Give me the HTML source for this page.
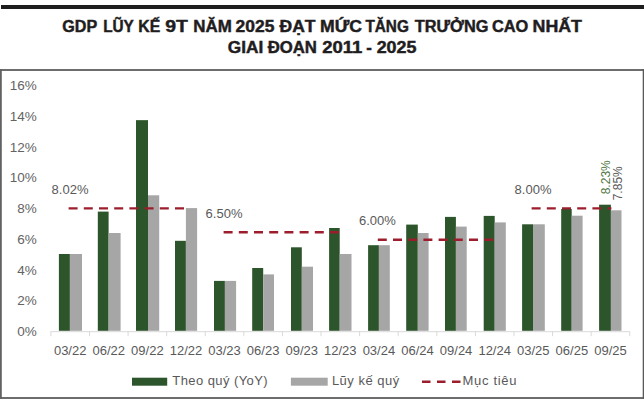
<!DOCTYPE html>
<html><head><meta charset="utf-8"><style>
html,body{margin:0;padding:0;background:#fff;}
body{width:644px;height:400px;overflow:hidden;}
svg{display:block;}
.t{font-family:"Liberation Sans",sans-serif;font-weight:bold;font-size:16px;fill:#1f1d1e;stroke:#1f1d1e;stroke-width:0.45px;}
.l{font-family:"Liberation Sans",sans-serif;font-size:13px;fill:#595959;}
</style></head><body>
<svg width="644" height="400" viewBox="0 0 644 400">
<rect x="1" y="5" width="643" height="4" fill="#1e1e1e"/>
<text x="62.29" y="31.6" class="t" textLength="34.88" lengthAdjust="spacingAndGlyphs">GDP</text>
<text x="103.14" y="31.6" class="t" textLength="30.61" lengthAdjust="spacingAndGlyphs">LŨY</text>
<text x="138.31" y="31.6" class="t" textLength="21.92" lengthAdjust="spacingAndGlyphs">KẾ</text>
<text x="165.29" y="31.6" class="t" textLength="22.61" lengthAdjust="spacingAndGlyphs">9T</text>
<text x="193.24" y="31.6" class="t" textLength="38.47" lengthAdjust="spacingAndGlyphs">NĂM</text>
<text x="235.61" y="31.6" class="t" textLength="38.73" lengthAdjust="spacingAndGlyphs">2025</text>
<text x="279.60" y="31.6" class="t" textLength="35.98" lengthAdjust="spacingAndGlyphs">ĐẠT</text>
<text x="320.00" y="31.6" class="t" textLength="41.97" lengthAdjust="spacingAndGlyphs">MỨC</text>
<text x="365.40" y="31.6" class="t" textLength="43.41" lengthAdjust="spacingAndGlyphs">TĂNG</text>
<text x="414.80" y="31.6" class="t" textLength="73.67" lengthAdjust="spacingAndGlyphs">TRƯỞNG</text>
<text x="491.98" y="31.6" class="t" textLength="36.40" lengthAdjust="spacingAndGlyphs">CAO</text>
<text x="532.59" y="31.6" class="t" textLength="49.40" lengthAdjust="spacingAndGlyphs">NHẤT</text>
<text x="227.82" y="53" class="t" textLength="35.44" lengthAdjust="spacingAndGlyphs">GIAI</text>
<text x="267.70" y="53" class="t" textLength="49.26" lengthAdjust="spacingAndGlyphs">ĐOẠN</text>
<text x="322.25" y="53" class="t" textLength="40.08" lengthAdjust="spacingAndGlyphs">2011</text>
<text x="366.35" y="53" class="t" textLength="5.59" lengthAdjust="spacingAndGlyphs">-</text>
<text x="376.68" y="53" class="t" textLength="39.78" lengthAdjust="spacingAndGlyphs">2025</text>
<line x1="0" y1="70" x2="644" y2="70" stroke="#6d6d6d" stroke-width="2"/>
<line x1="0" y1="397.9" x2="644" y2="397.9" stroke="#6d6d6d" stroke-width="2"/>
<line x1="0.9" y1="69" x2="0.9" y2="398.9" stroke="#626262" stroke-width="1.8"/>
<line x1="643.4" y1="69" x2="643.4" y2="398.9" stroke="#5a5a5a" stroke-width="1.4"/>
<text x="36.7" y="336" text-anchor="end" class="l" style="font-size:13.5px;fill:#636363">0%</text>
<text x="36.7" y="305.25" text-anchor="end" class="l" style="font-size:13.5px;fill:#636363">2%</text>
<text x="36.7" y="274.5" text-anchor="end" class="l" style="font-size:13.5px;fill:#636363">4%</text>
<text x="36.7" y="243.75" text-anchor="end" class="l" style="font-size:13.5px;fill:#636363">6%</text>
<text x="36.7" y="213" text-anchor="end" class="l" style="font-size:13.5px;fill:#636363">8%</text>
<text x="36.7" y="182.25" text-anchor="end" class="l" style="font-size:13.5px;fill:#636363">10%</text>
<text x="36.7" y="151.5" text-anchor="end" class="l" style="font-size:13.5px;fill:#636363">12%</text>
<text x="36.7" y="120.75" text-anchor="end" class="l" style="font-size:13.5px;fill:#636363">14%</text>
<text x="36.7" y="90" text-anchor="end" class="l" style="font-size:13.5px;fill:#636363">16%</text>
<line x1="50.9" y1="331.7" x2="629.75" y2="331.7" stroke="#d9d9d9" stroke-width="1"/>
<line x1="50.9" y1="331.2" x2="50.9" y2="336.2" stroke="#d9d9d9" stroke-width="1"/>
<line x1="89.49" y1="331.2" x2="89.49" y2="336.2" stroke="#d9d9d9" stroke-width="1"/>
<line x1="128.08" y1="331.2" x2="128.08" y2="336.2" stroke="#d9d9d9" stroke-width="1"/>
<line x1="166.67" y1="331.2" x2="166.67" y2="336.2" stroke="#d9d9d9" stroke-width="1"/>
<line x1="205.26" y1="331.2" x2="205.26" y2="336.2" stroke="#d9d9d9" stroke-width="1"/>
<line x1="243.85" y1="331.2" x2="243.85" y2="336.2" stroke="#d9d9d9" stroke-width="1"/>
<line x1="282.44" y1="331.2" x2="282.44" y2="336.2" stroke="#d9d9d9" stroke-width="1"/>
<line x1="321.03" y1="331.2" x2="321.03" y2="336.2" stroke="#d9d9d9" stroke-width="1"/>
<line x1="359.62" y1="331.2" x2="359.62" y2="336.2" stroke="#d9d9d9" stroke-width="1"/>
<line x1="398.21" y1="331.2" x2="398.21" y2="336.2" stroke="#d9d9d9" stroke-width="1"/>
<line x1="436.8" y1="331.2" x2="436.8" y2="336.2" stroke="#d9d9d9" stroke-width="1"/>
<line x1="475.39" y1="331.2" x2="475.39" y2="336.2" stroke="#d9d9d9" stroke-width="1"/>
<line x1="513.98" y1="331.2" x2="513.98" y2="336.2" stroke="#d9d9d9" stroke-width="1"/>
<line x1="552.57" y1="331.2" x2="552.57" y2="336.2" stroke="#d9d9d9" stroke-width="1"/>
<line x1="591.16" y1="331.2" x2="591.16" y2="336.2" stroke="#d9d9d9" stroke-width="1"/>
<line x1="629.75" y1="331.2" x2="629.75" y2="336.2" stroke="#d9d9d9" stroke-width="1"/>
<rect x="58.9" y="254" width="11" height="76.8" fill="#2d552b"/>
<rect x="69.9" y="254" width="12.1" height="76.8" fill="#a7a6a7"/>
<rect x="97.8" y="211.6" width="10.8" height="119.2" fill="#2d552b"/>
<rect x="108.6" y="233" width="12" height="97.8" fill="#a7a6a7"/>
<rect x="136" y="120.15" width="12" height="210.65" fill="#2d552b"/>
<rect x="148" y="195.3" width="11.2" height="135.5" fill="#a7a6a7"/>
<rect x="175" y="240.8" width="10.9" height="90" fill="#2d552b"/>
<rect x="185.9" y="208.1" width="11.2" height="122.7" fill="#a7a6a7"/>
<rect x="214" y="280.9" width="10.9" height="49.9" fill="#2d552b"/>
<rect x="224.9" y="280.9" width="11.2" height="49.9" fill="#a7a6a7"/>
<rect x="252.2" y="268" width="11" height="62.8" fill="#2d552b"/>
<rect x="263.2" y="274.4" width="10.8" height="56.4" fill="#a7a6a7"/>
<rect x="291" y="247.3" width="10.8" height="83.5" fill="#2d552b"/>
<rect x="301.8" y="266.7" width="11.2" height="64.1" fill="#a7a6a7"/>
<rect x="329.1" y="228" width="10.6" height="102.8" fill="#2d552b"/>
<rect x="339.7" y="254" width="11.8" height="76.8" fill="#a7a6a7"/>
<rect x="368.1" y="245.2" width="10.8" height="85.6" fill="#2d552b"/>
<rect x="378.9" y="245.2" width="10.9" height="85.6" fill="#a7a6a7"/>
<rect x="406.2" y="224.6" width="11.6" height="106.2" fill="#2d552b"/>
<rect x="417.8" y="233" width="10.8" height="97.8" fill="#a7a6a7"/>
<rect x="445" y="216.9" width="10.9" height="113.9" fill="#2d552b"/>
<rect x="455.9" y="226.6" width="10.8" height="104.2" fill="#a7a6a7"/>
<rect x="483.7" y="215.9" width="11" height="114.9" fill="#2d552b"/>
<rect x="494.7" y="222.4" width="11.1" height="108.4" fill="#a7a6a7"/>
<rect x="522.1" y="224.3" width="10.9" height="106.5" fill="#2d552b"/>
<rect x="533" y="224.3" width="11.8" height="106.5" fill="#a7a6a7"/>
<rect x="561.2" y="209" width="10.5" height="121.8" fill="#2d552b"/>
<rect x="571.7" y="215.7" width="10.9" height="115.1" fill="#a7a6a7"/>
<rect x="599.1" y="204.7" width="11.8" height="126.1" fill="#2d552b"/>
<rect x="610.9" y="210.3" width="10.6" height="120.5" fill="#a7a6a7"/>
<text x="70.19" y="355.4" text-anchor="middle" class="l">03/22</text>
<text x="108.78" y="355.4" text-anchor="middle" class="l">06/22</text>
<text x="147.38" y="355.4" text-anchor="middle" class="l">09/22</text>
<text x="185.97" y="355.4" text-anchor="middle" class="l">12/22</text>
<text x="224.56" y="355.4" text-anchor="middle" class="l">03/23</text>
<text x="263.14" y="355.4" text-anchor="middle" class="l">06/23</text>
<text x="301.74" y="355.4" text-anchor="middle" class="l">09/23</text>
<text x="340.32" y="355.4" text-anchor="middle" class="l">12/23</text>
<text x="378.92" y="355.4" text-anchor="middle" class="l">03/24</text>
<text x="417.5" y="355.4" text-anchor="middle" class="l">06/24</text>
<text x="456.1" y="355.4" text-anchor="middle" class="l">09/24</text>
<text x="494.69" y="355.4" text-anchor="middle" class="l">12/24</text>
<text x="533.28" y="355.4" text-anchor="middle" class="l">03/25</text>
<text x="571.87" y="355.4" text-anchor="middle" class="l">06/25</text>
<text x="610.46" y="355.4" text-anchor="middle" class="l">09/25</text>
<line x1="68.6" y1="208.4" x2="186.5" y2="208.4" stroke="#9c1e2c" stroke-width="2.4" stroke-dasharray="9 6.2"/>
<text x="51.6" y="194.4" class="l">8.02%</text>
<line x1="223.6" y1="232.3" x2="340.5" y2="232.3" stroke="#9c1e2c" stroke-width="2.4" stroke-dasharray="9 6.2"/>
<text x="205.6" y="218.1" class="l">6.50%</text>
<line x1="377.8" y1="239.7" x2="494.7" y2="239.7" stroke="#9c1e2c" stroke-width="2.4" stroke-dasharray="9 6.2"/>
<text x="359" y="225.3" class="l">6.00%</text>
<line x1="531.6" y1="208.4" x2="611.4" y2="208.4" stroke="#9c1e2c" stroke-width="2.4" stroke-dasharray="9 6.2"/>
<text x="514.6" y="193.9" class="l">8.00%</text>
<text transform="translate(610.3,194.3) rotate(-90)" class="l" style="font-size:12px;fill:#537848">8.23%</text>
<text transform="translate(621.6,200.3) rotate(-90)" class="l" style="font-size:12px">7.85%</text>
<rect x="132" y="377.7" width="35.2" height="8" fill="#2d552b"/>
<text x="172.3" y="385.4" class="l" textLength="95.3" lengthAdjust="spacing">Theo quý (YoY)</text>
<rect x="290.9" y="377.7" width="36.8" height="8" fill="#a7a6a7"/>
<text x="331.9" y="385.4" class="l" textLength="67.3" lengthAdjust="spacing">Lũy kế quý</text>
<line x1="422" y1="381.7" x2="462" y2="381.7" stroke="#9c1e2c" stroke-width="2.4" stroke-dasharray="8.5 6.5"/>
<text x="462.6" y="385.4" class="l" textLength="53.9" lengthAdjust="spacing">Mục tiêu</text>
</svg>
</body></html>
